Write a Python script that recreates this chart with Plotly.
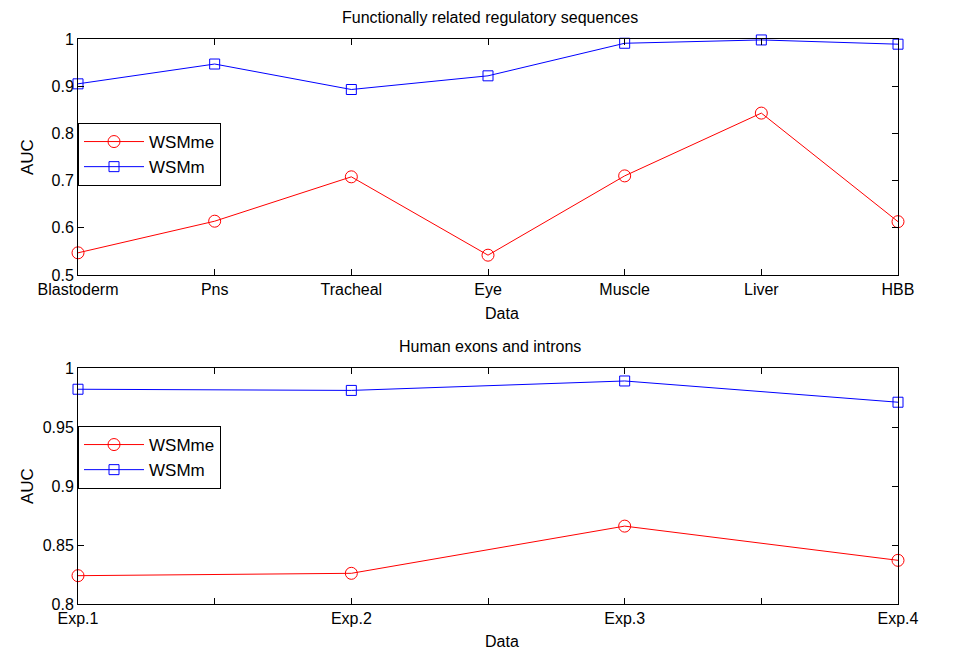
import plotly.graph_objects as go

# ---- data ----
top_categories = ["Blastoderm", "Pns", "Tracheal", "Eye", "Muscle", "Liver", "HBB"]
top_wsmme = [0.547, 0.614, 0.708, 0.542, 0.710, 0.843, 0.613]
top_wsmm = [0.905, 0.947, 0.893, 0.922, 0.991, 0.998, 0.989]

bottom_categories = ["Exp.1", "Exp.2", "Exp.3", "Exp.4"]
bottom_wsmme = [0.824, 0.826, 0.866, 0.837]
bottom_wsmm = [0.982, 0.981, 0.989, 0.971]

top_yticks = [0.5, 0.6, 0.7, 0.8, 0.9, 1.0]
top_yticklabels = ["0.5", "0.6", "0.7", "0.8", "0.9", "1"]
bottom_yticks = [0.8, 0.85, 0.9, 0.95, 1.0]
bottom_yticklabels = ["0.8", "0.85", "0.9", "0.95", "1"]

FONT = "Liberation Sans, Arial, Helvetica, sans-serif"
RED = "#ff0000"
BLUE = "#0000ff"

# page has an 8px body margin; work in figure pixels = screen pixels - 8
OFF = 8
W, H = 972 - OFF, 655 - OFF
def sx(v):
    return v - OFF
ML = sx(78)
MR = W - sx(898)
MT = sx(39)
MB = H - sx(604)
PH = H - MT - MB
PW = W - ML - MR

top_x = list(range(len(top_categories)))
bottom_x = list(range(1, len(bottom_categories) + 1))

fig = go.Figure()

def add_pair(x, me, m, xa, ya, leg):
    fig.add_trace(go.Scatter(x=x, y=me, name="WSMme", mode="lines+markers",
                             line=dict(color=RED, width=1),
                             marker=dict(symbol="circle-open", size=12, color=RED, line=dict(width=1)),
                             xaxis=xa, yaxis=ya, legend=leg, cliponaxis=False))
    fig.add_trace(go.Scatter(x=x, y=m, name="WSMm", mode="lines+markers",
                             line=dict(color=BLUE, width=1),
                             marker=dict(symbol="square-open", size=10, color=BLUE, line=dict(width=1)),
                             xaxis=xa, yaxis=ya, legend=leg, cliponaxis=False))

add_pair(top_x, top_wsmme, top_wsmm, "x", "y", "legend")
add_pair(bottom_x, bottom_wsmme, bottom_wsmm, "x2", "y2", "legend2")

# bottom minor tick positions between experiments
bottom_tickvals = []
bottom_ticktext = []
for i, c in enumerate(bottom_categories):
    bottom_tickvals.append(i + 1)
    bottom_ticktext.append(c)
    if i < len(bottom_categories) - 1:
        bottom_tickvals.append(i + 1.5)
        bottom_ticktext.append("")

axis_common = dict(showline=True, linecolor="black", linewidth=1, mirror="ticks",
                   ticks="inside", ticklen=6, tickcolor="black", showgrid=False,
                   zeroline=False, automargin=False,
                   tickfont=dict(family=FONT, size=16, color="black"))

def ydom(top_px, bot_px):
    return [(H - MB - sx(bot_px)) / PH, (H - MB - sx(top_px)) / PH]

def px_to_paper(xp, yp):
    return (sx(xp) - ML) / PW, (H - MB - sx(yp)) / PH

legend_common = dict(xanchor="left", yanchor="top", bgcolor="white",
                     bordercolor="black", borderwidth=1,
                     font=dict(family=FONT, size=17, color="black"),
                     itemwidth=60, tracegroupgap=0, xref="paper", yref="paper")

fig.update_layout(
    width=W, height=H,
    margin=dict(l=ML, r=MR, t=MT, b=MB, autoexpand=False),
    paper_bgcolor="white", plot_bgcolor="white",
    font=dict(family=FONT, color="black"),
    xaxis=dict(domain=[0, 1], anchor="y", range=[0, len(top_categories) - 1],
               tickvals=top_x, ticktext=top_categories, **axis_common),
    yaxis=dict(domain=ydom(39, 275), anchor="x", range=[0.5, 1.0],
               tickvals=top_yticks, ticktext=top_yticklabels, **axis_common),
    xaxis2=dict(domain=[0, 1], anchor="y2", range=[1, len(bottom_categories)],
                tickvals=bottom_tickvals, ticktext=bottom_ticktext, **axis_common),
    yaxis2=dict(domain=ydom(368, 604), anchor="x2", range=[0.8, 1.0],
                tickvals=bottom_yticks, ticktext=bottom_yticklabels, **axis_common),
    legend=dict(x=0, y=px_to_paper(78, 123)[1], **legend_common),
    legend2=dict(x=0, y=px_to_paper(78, 426)[1], **legend_common),
    showlegend=True,
)

annos = [
    ("Functionally related regulatory sequences", 490, 17, 16, 0),
    ("Human exons and introns", 490, 346, 16, 0),
    ("Data", 502, 313, 16, 0),
    ("Data", 502, 641, 16, 0),
    ("AUC", 27, 157, 17, -90),
    ("AUC", 27, 486, 17, -90),
]
for text, xp, yp, size, ang in annos:
    xx, yy = px_to_paper(xp, yp)
    fig.add_annotation(text=text, x=xx, y=yy, xref="paper", yref="paper",
                       showarrow=False, textangle=ang, xanchor="center", yanchor="middle",
                       font=dict(family=FONT, size=size, color="black"))

fig.write_html("out.html")
